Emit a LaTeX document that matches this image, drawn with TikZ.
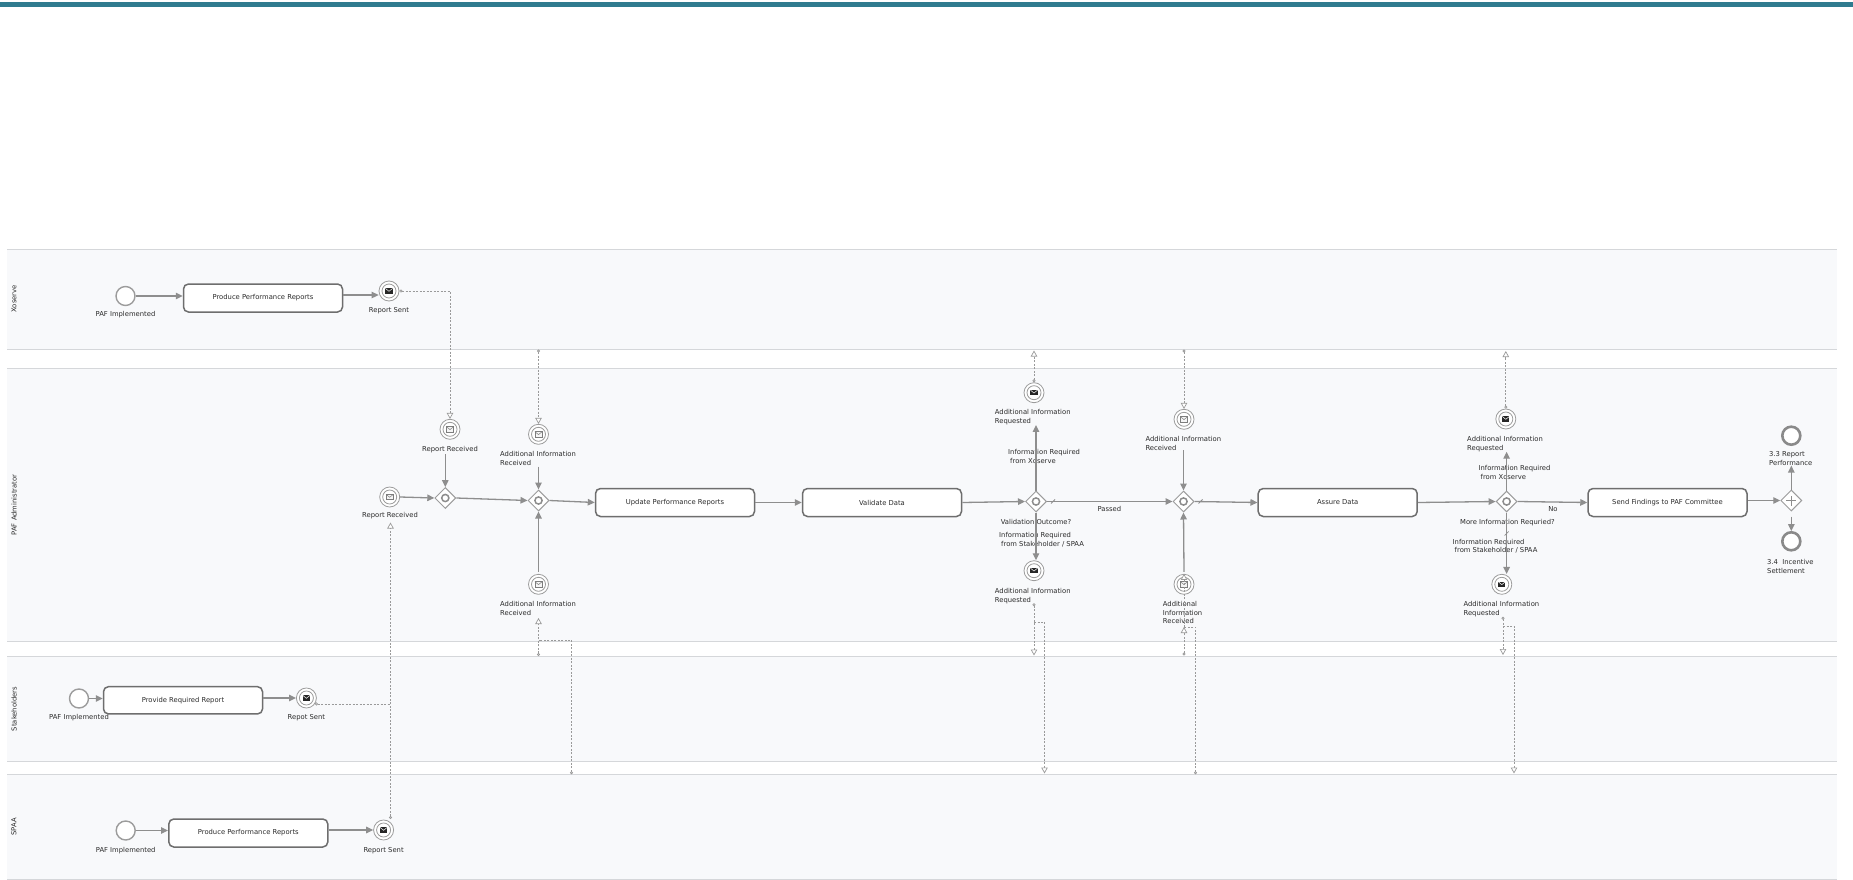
\documentclass[tikz,border=0pt]{standalone}
\usepackage{fontspec}
\setmainfont{DejaVu Sans}
\usetikzlibrary{shapes.geometric,arrows.meta,calc}
\definecolor{bandcol}{HTML}{2F7B8F}
\definecolor{lanefill}{HTML}{F8F9FB}
\definecolor{laneline}{HTML}{D5D7DA}
\definecolor{taskline}{HTML}{6E6E6E}
\definecolor{flowcol}{HTML}{8E8E8E}
\definecolor{msgcol}{HTML}{9A9A9A}
\definecolor{evcol}{HTML}{9C9C9C}
\definecolor{endcol}{HTML}{8A8A8A}
\definecolor{txtcol}{HTML}{2B2B2B}
\begin{document}
\begin{tikzpicture}[x=1pt,y=-1pt,
  font=\fontsize{6.8}{8.4}\selectfont, text=txtcol,
  task/.style={draw=taskline, line width=1.5pt, rounded corners=5pt, fill=white,
    minimum width=159pt, minimum height=28pt, inner sep=0pt},
  startev/.style={circle, draw=evcol, line width=1.4pt, fill=white,
    minimum size=19pt, inner sep=0pt},
  endev/.style={circle, draw=endcol, line width=2.6pt, fill=white,
    minimum size=18pt, inner sep=0pt},
  msgev/.style={circle, draw=evcol, line width=0.8pt, fill=white,
    minimum size=20pt, inner sep=0pt},
  msgthrow/.style={msgev, path picture={
    \draw[evcol, line width=0.8pt] (path picture bounding box.center) circle[radius=7pt];
    \fill[black!85] ([shift={(-3.6pt,-2.6pt)}]path picture bounding box.center)
      rectangle ([shift={(3.6pt,2.6pt)}]path picture bounding box.center);
    \draw[white, line width=0.5pt] ([shift={(-3.6pt,2.6pt)}]path picture bounding box.center)
      -- ([shift={(0pt,-0.3pt)}]path picture bounding box.center)
      -- ([shift={(3.6pt,2.6pt)}]path picture bounding box.center);}},
  msgcatch/.style={msgev, path picture={
    \draw[evcol, line width=0.8pt] (path picture bounding box.center) circle[radius=7pt];
    \draw[evcol!80!black, line width=0.5pt, fill=black!4]
      ([shift={(-3.6pt,-2.6pt)}]path picture bounding box.center)
      rectangle ([shift={(3.6pt,2.6pt)}]path picture bounding box.center);
    \draw[evcol!80!black, line width=0.5pt] ([shift={(-3.6pt,2.6pt)}]path picture bounding box.center)
      -- ([shift={(0pt,-0.3pt)}]path picture bounding box.center)
      -- ([shift={(3.6pt,2.6pt)}]path picture bounding box.center);}},
  gw/.style={diamond, draw=evcol, line width=1pt, fill=white,
    minimum width=21pt, minimum height=21pt, inner sep=0pt},
  incl/.style={gw, path picture={
    \draw[evcol!90!black, line width=1.5pt] (path picture bounding box.center) circle[radius=3.6pt];}},
  par/.style={gw, path picture={
    \draw[evcol!90!black, line width=1.6pt]
      ([xshift=-5pt]path picture bounding box.center) -- ([xshift=5pt]path picture bounding box.center)
      ([yshift=-5pt]path picture bounding box.center) -- ([yshift=5pt]path picture bounding box.center);}},
  seq/.style={draw=flowcol, line width=1.3pt, -{Triangle[length=7pt,width=6.5pt]}},
  msgbase/.style={draw=msgcol, line width=0.7pt, dash pattern=on 2pt off 1.5pt},
  msg/.style={msgbase, {Circle[open,length=3pt,width=3pt,fill=white]}-{Triangle[open,length=6pt,width=6.5pt,fill=white]}},
  msgjoin/.style={msgbase, {Circle[open,length=3pt,width=3pt,fill=white]}-},
  msgtail/.style={msgbase, -{Triangle[open,length=6pt,width=6.5pt,fill=white]}},
  deflt/.style={draw=flowcol, line width=0.8pt},
  clbl/.style={inner sep=0pt},
  lbl/.style={inner sep=0pt, anchor=north west, align=left},
  lanelbl/.style={rotate=90, inner sep=0pt}
]
\useasboundingbox (0,0) rectangle (1853,880);

% header band
\fill[bandcol] (0,2) rectangle (1853,7.3);

% swimlanes
\fill[lanefill] (7,249.3) rectangle (1837,349.5);
\fill[lanefill] (7,368.3) rectangle (1837,641.5);
\fill[lanefill] (7,656) rectangle (1837,761.7);
\fill[lanefill] (7,774.3) rectangle (1837,879);
\draw[laneline, line width=1pt]
  (7,249.3) -- (1837,249.3) (7,349.5) -- (1837,349.5)
  (7,368.3) -- (1837,368.3) (7,641.5) -- (1837,641.5)
  (7,656) -- (1837,656) (7,761.7) -- (1837,761.7)
  (7,774.3) -- (1837,774.3) (7,879) -- (1837,879);
\node[lanelbl] (laneXo) at (14,299) {Xoserve};
\node[lanelbl] (laneAdm) at (14,505) {PAF Administrator};
\node[lanelbl] (laneSt) at (14,709) {Stakeholders};
\node[lanelbl] (laneSp) at (14,827) {SPAA};

% ---------------- Xoserve ----------------
\node[startev] (xsStart) at (125.5,296) {};
\node[clbl] (xsStartL) at (125.5,315) {PAF Implemented};
\node[task] (xsTask) at (263,298) {Produce Performance Reports};
\node[msgthrow] (xsSent) at (389,291) {};
\node[clbl] (xsSentL) at (389,311) {Report Sent};
\draw[seq] (xsStart.east) -- (xsStart.east -| xsTask.west);
\draw[seq] ($(xsTask.east)+(0,-3)$) -- ($(xsSent.west)+(0,4)$);

% ---------------- PAF Administrator ----------------
\node[msgcatch] (rrTop) at (450,429.3) {};
\node[clbl] (rrTopL) at (450,449.7) {Report Received};
\node[msgcatch] (rrLeft) at (389.7,497) {};
\node[clbl] (rrLeftL) at (390,515.3) {Report Received};
\node[incl] (gw1) at (445.3,498) {};
\node[incl] (gw2) at (538.5,500.5) {};
\node[msgcatch] (air1Top) at (538.5,434.3) {};
\node[lbl] (air1TopL) at (500,451.6) {Additional Information\\Received};
\node[msgcatch] (air1Bot) at (538.5,584.3) {};
\node[lbl] (air1BotL) at (500,601.6) {Additional Information\\Received};
\node[task] (upt) at (675,502.5) {Update Performance Reports};
\node[task] (vd) at (882,502.5) {Validate Data};

\node[incl] (gw3) at (1036,501.5) {};
\node[clbl] (gw3L) at (1036,522.3) {Validation Outcome?};
\node[msgthrow] (arqTop) at (1034,392.7) {};
\node[lbl] (arqTopL) at (994.7,409.6) {Additional Information\\Requested};
\node[msgthrow] (arqBot) at (1034,570.7) {};
\node[lbl] (arqBotL) at (994.7,588.6) {Additional Information\\Requested};
\node[lbl] (infoX1) at (1008,449.3) {Information Required\\\hspace{2pt}from Xoserve};
\node[lbl] (infoS1) at (999,532.6) {Information Required\\\hspace{2pt}from Stakeholder / SPAA};
\node[clbl] (passedL) at (1109.3,508.7) {Passed};

\node[incl] (gw4) at (1183.5,501.5) {};
\node[msgcatch] (a2Top) at (1184,419.3) {};
\node[lbl] (a2TopL) at (1145.3,436.3) {Additional Information\\Received};
\node[msgcatch] (a2Bot) at (1184,584.3) {};
\node[lbl] (a2BotL) at (1162.7,601.6) {Additional\\Information\\Received};
\node[task] (ad) at (1337.7,502.5) {Assure Data};

\node[incl] (gw5) at (1506.6,501.5) {};
\node[clbl] (gw5L) at (1507.4,522.3) {More Information Requried?};
\node[msgthrow] (a3Top) at (1505.8,419) {};
\node[lbl] (a3TopL) at (1467,436.3) {Additional Information\\Requested};
\node[msgthrow] (a3Bot) at (1501.8,584.3) {};
\node[lbl] (a3BotL) at (1463.4,601.6) {Additional Information\\Requested};
\node[lbl] (infoX2) at (1478.4,465.6) {Information Required\\\hspace{2pt}from Xoserve};
\node[lbl] (infoS2) at (1452.5,539) {Information Required\\\hspace{2pt}from Stakeholder / SPAA};
\node[clbl] (noL) at (1553,509.3) {No};
\node[task] (sf) at (1667.5,502.5) {Send Findings to PAF Committee};
\node[par] (pgw) at (1791.3,500.5) {};
\node[endev] (end33) at (1791.3,435.7) {};
\node[lbl] (end33L) at (1769,451.6) {3.3 Report\\Performance};
\node[endev] (end34) at (1791.3,541.3) {};
\node[lbl] (end34L) at (1767,559.3) {3.4\ \ Incentive\\Settlement};

% sequence flows, administrator lane
\draw[seq] (rrLeft.east) -- (gw1.west);
\draw[seq] ($(gw1 |- rrTopL.south)+(0,1)$) -- (gw1.north);
\draw[seq] (gw1.east) -- (gw2.west);
\draw[seq] ($(gw2 |- air1TopL.south)+(0,1)$) -- (gw2.north);
\draw[seq] ([yshift=2pt]air1Bot.north) -- (gw2.south);
\draw[seq] (gw2.east) -- (upt.west);
\draw[seq] (upt.east) -- (vd.west);
\draw[seq] (vd.east) -- (gw3.west);
\draw[seq] (gw3.north) -- (gw3 |- arqTopL.south);
\draw[seq] (gw3.south) -- (gw3 |- arqBot.north);
\draw[seq] (gw3.east) -- (gw4.west);
\draw[deflt] ([xshift=6pt]gw3.east) ++(-2pt,-2pt) -- ++(4pt,4pt);
\draw[seq] (gw4 |- a2TopL.south) -- (gw4.north);
\draw[seq] ([yshift=2pt]a2Bot.north) -- (gw4.south);
\draw[seq] (gw4.east) -- (ad.west);
\draw[deflt] ([xshift=6pt]gw4.east) ++(-2pt,-2pt) -- ++(4pt,4pt);
\draw[seq] (ad.east) -- (gw5.west);
\draw[seq] (gw5.north) -- (gw5 |- a3TopL.south);
\draw[seq] (gw5.south) -- (gw5 |- a3Bot.north);
\draw[deflt] ([yshift=-21pt]gw5.south) ++(-2pt,-2pt) -- ++(4pt,4pt);
\draw[seq] (gw5.east) -- (sf.west);
\draw[seq] (sf.east |- pgw) -- (pgw.west);
\draw[seq] (pgw.north) -- (pgw |- end33L.south);
\draw[seq] ([yshift=-5pt]pgw.south) -- (end34.north);

% ---------------- Stakeholders ----------------
\node[startev] (stStart) at (79,698.5) {};
\node[clbl] (stStartL) at (79,717.3) {PAF Implemented};
\node[task, minimum height=27.3pt] (stTask) at (183,700.3) {Provide Required Report};
\node[msgthrow] (stSent) at (306.4,698) {};
\node[clbl] (stSentL) at (306.4,717.3) {Repot Sent};
\draw[seq] (stStart.east) -- (stStart.east -| stTask.west);
\draw[seq] (stTask.east |- stSent) -- (stSent.west);

% ---------------- SPAA ----------------
\node[startev] (spStart) at (125.7,830.5) {};
\node[clbl] (spStartL) at (125.7,850.3) {PAF Implemented};
\node[task] (spTask) at (248.3,833) {Produce Performance Reports};
\node[msgthrow] (spSent) at (383.6,830) {};
\node[clbl] (spSentL) at (383.6,850.3) {Report Sent};
\draw[seq] (spStart.east) -- (spStart.east -| spTask.west);
\draw[seq] (spTask.east |- spSent) -- (spSent.west);

% ---------------- message flows ----------------
\coordinate (pXo1) at (538.5,349.5);
\coordinate (pSt1) at (538.5,656);
\coordinate (pSp1) at (571.5,774.3);
\coordinate (air1In) at (538.5,618);
\coordinate (air1Join) at (538.5,640);
\coordinate (spOut) at (390.5,819);
\coordinate (rrLeftIn) at (390.5,522.5);
\coordinate (pXo2) at (1034,350.5);
\coordinate (arqBotOut) at (1034,603.3);
\coordinate (pSt2) at (1034,655.5);
\coordinate (arqBotSplit) at (1034,622);
\coordinate (pSp2) at (1044.5,773.5);
\coordinate (pXo3) at (1184,349.5);
\coordinate (pSt3) at (1184,655.5);
\coordinate (a2In) at (1184,627);
\coordinate (pSp3) at (1195.5,774.3);
\coordinate (pXo4) at (1505.8,351);
\coordinate (a3BotOut) at (1503,616.7);
\coordinate (pSt4) at (1503,655);
\coordinate (a3BotSplit) at (1503,626);
\coordinate (pSp4) at (1514,773.5);

\draw[msg] (xsSent.east) -| (rrTop.north);
\draw[msg] (pXo1) -- (air1Top.north);
\draw[msg] (pSt1) -- (air1In);
\draw[msgjoin] (pSp1) |- (air1Join);
\draw[msg] (spOut) -- (rrLeftIn);
\draw[msgjoin] (stSent.-35) -- (stSent.-35 -| rrLeftIn);
\draw[msg] (arqTop.north) -- (pXo2);
\draw[msg] (arqBotOut) -- (pSt2);
\draw[msgtail] (arqBotSplit) -| (pSp2);
\draw[msg] (pXo3) -- (a2Top.north);
\draw[msg] (pSt3) -- (a2In);
\draw[msgjoin] (pSp3) |- (a2In);
\draw[msgtail] (a2In) -- (a2Bot.north);
\draw[msg] (a3Top.north) -- (pXo4);
\draw[msg] (a3BotOut) -- (pSt4);
\draw[msgtail] (a3BotSplit) -| (pSp4);
\end{tikzpicture}
\end{document}
